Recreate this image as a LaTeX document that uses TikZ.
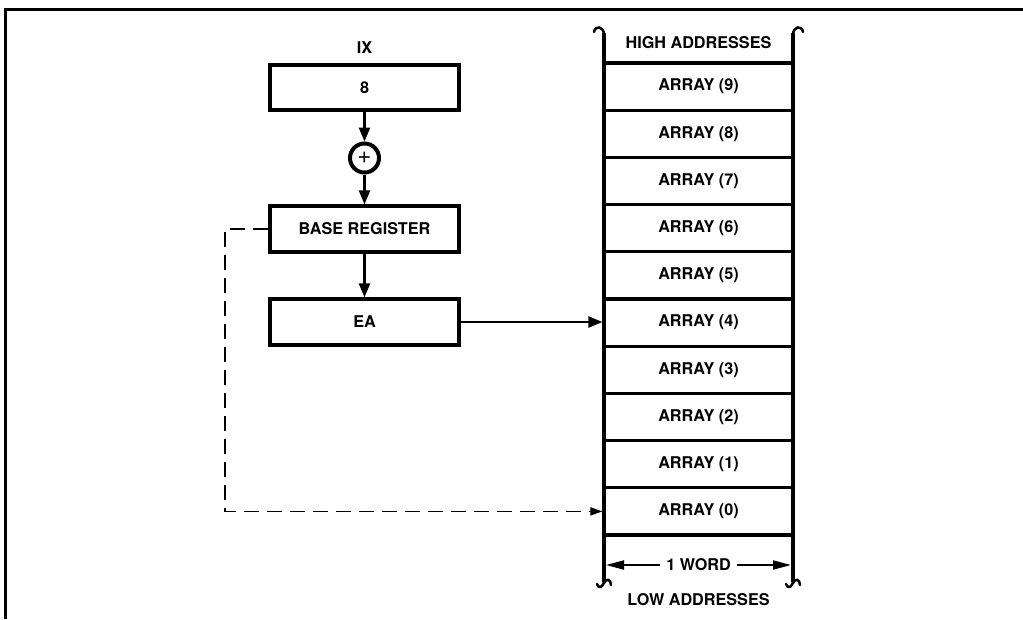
\documentclass[tikz,border=0pt]{standalone}
\usepackage{fontspec}
\setmainfont{TeX Gyre Heros}
\usetikzlibrary{arrows.meta,calc}
\begin{document}
\begin{tikzpicture}[x=1pt,y=-1pt,
  every node/.style={font=\fontsize{16.2}{19}\selectfont\bfseries},
  regbox/.style={draw,line width=3.8pt,minimum width=189.5pt,minimum height=45.5pt,inner sep=0pt},
  memrow/.style={draw,line width=3.2pt,minimum width=189pt,minimum height=47.2pt,inner sep=0pt},
  flow/.style={line width=2.5pt,-{Triangle[length=14pt,width=11pt]}},
  dashflow/.style={line width=1.6pt,dash pattern=on 15pt off 8pt,-{Triangle[length=12pt,width=8pt]}},
  wordarrow/.style={line width=2pt,{Triangle[length=18pt,width=9pt]}-{Triangle[length=18pt,width=9pt]}},
  memline/.style={line width=4pt},
  curl/.style={line width=2.5pt,line cap=round},
  frameline/.style={line width=3pt}
]
\useasboundingbox (0,0) rectangle (1023,619);
% frame
\draw[frameline] (5,619) -- (5,9) -- (1023,9);

% left register chain
\node (ixlabel) at (364.5,48) {IX};
\node[regbox] (ix) at (364.5,87.5) {8};
\node[draw,circle,line width=4pt,minimum size=29pt,inner sep=0pt,font=\fontsize{24}{24}\selectfont] (plus) at (364.5,158) {+};
\node[regbox] (base) at (364.5,229) {BASE REGISTER};
\node[regbox] (ea) at (364.5,322) {EA};

\draw[flow] (ix.south) -- (plus.north);
\draw[flow] (plus.south) -- (base.north);
\draw[flow] (base.south) -- (ea.north);

% memory column
\foreach \k in {0,...,9}{
  \node[memrow] (a\k) at (698.5,{86.6+(9-\k)*47.2}) {ARRAY (\k)};
}
\node (high) at (698.5,43) {HIGH ADDRESSES};
\node (low) at (698.5,600) {LOW ADDRESSES};

% vertical rails with curls
\draw[memline] (604,582) -- (604,33);
\draw[memline] (793,582) -- (793,33);
\draw[curl] (604,35) .. controls (604,26) and (595,25) .. (594,32);
\draw[curl] (793,35) .. controls (793,26) and (802,25) .. (803,32);
\draw[curl] (604,580) .. controls (604,588) and (598,589) .. (597,584);
\draw[curl] (604,583) .. controls (606,578) and (611,579) .. (611,585);
\draw[curl] (793,580) .. controls (793,588) and (787,589) .. (786,584);
\draw[curl] (793,583) .. controls (795,578) and (800,579) .. (800,585);

% 1 word
\coordinate (wl) at (606,565);
\coordinate (wr) at (791,565);
\draw[wordarrow] (wl) -- (wr);
\node[fill=white,inner sep=6pt] (word) at (698.5,565) {1 WORD};

% EA to array(4)
\draw[flow] (ea.east) -- (ea.east -| a4.west);
% dashed base to array(0)
\draw[dashflow] (base.west) -- ++(-43,0) |- (a0.west);
\end{tikzpicture}
\end{document}
